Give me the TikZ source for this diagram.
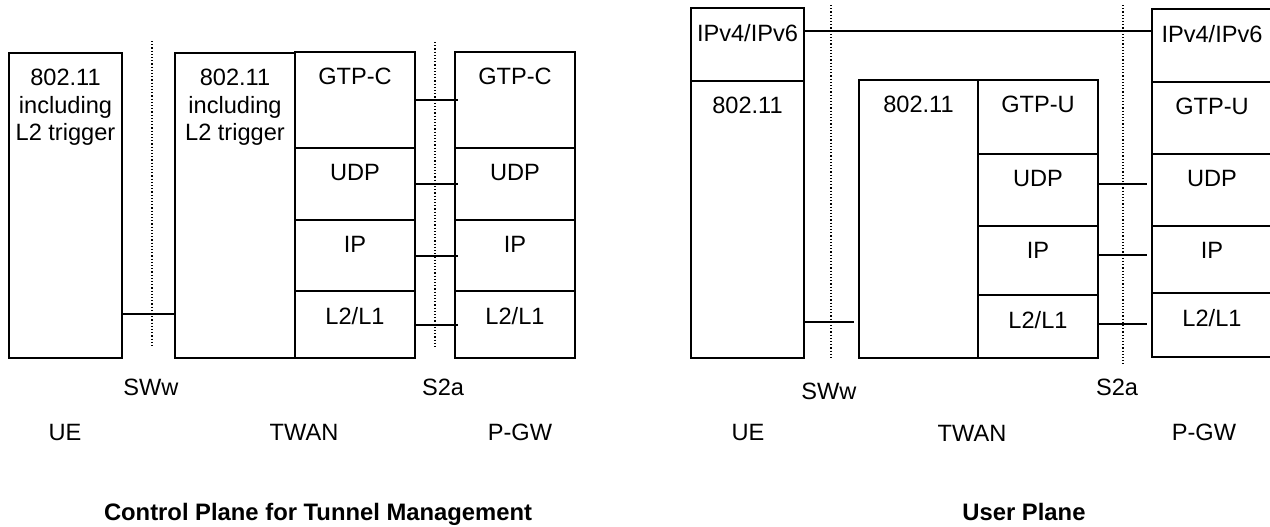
\documentclass[tikz,border=0pt]{standalone}
\usepackage{fontspec}
\setmainfont{Liberation Sans}
\tikzset{
  layer/.style={draw, line width=1pt, anchor=north west, inner sep=0pt,
                minimum width=60pt},
  ltext/.style={anchor=north, inner sep=0pt, align=center, yshift=-8.5pt},
  link/.style={line width=1pt},
  refline/.style={densely dotted, line width=0.6pt},
  caption/.style={anchor=base, inner sep=0pt},
  heading/.style={anchor=base, inner sep=0pt,
                  font=\fontsize{11.9}{14}\selectfont\bfseries},
}
\begin{document}
\begin{tikzpicture}[x=0.5pt, y=-0.5pt,
  every node/.style={font=\fontsize{11.8}{13.75}\selectfont}]
\useasboundingbox (0,0) rectangle (1270,526);

% Control plane: UE
\node[layer, minimum width=56.5pt, minimum height=152.5pt,
      label={[ltext]north:{802.11\\including\\L2 trigger}}] (ueC) at (8,52) {};

% Control plane: TWAN
\node[layer, minimum height=152.5pt,
      label={[ltext]north:{802.11\\including\\L2 trigger}}] (twanC) at (174,52) {};
\node[layer, minimum height=48pt, label={[ltext]north:GTP-C}] (gtpcT) at (294,51) {};
\node[layer, minimum height=36pt, label={[ltext]north:UDP}] (udpT) at (294,147) {};
\node[layer, minimum height=35.5pt, label={[ltext]north:IP}] (ipT) at (294,219) {};
\node[layer, minimum height=33.5pt, label={[ltext]north:L2/L1}] (l2T) at (294,290) {};

% Control plane: P-GW
\node[layer, minimum height=48pt, label={[ltext]north:GTP-C}] (gtpcP) at (454,51) {};
\node[layer, minimum height=36pt, label={[ltext]north:UDP}] (udpP) at (454,147) {};
\node[layer, minimum height=35.5pt, label={[ltext]north:IP}] (ipP) at (454,219) {};
\node[layer, minimum height=33.5pt, label={[ltext]north:L2/L1}] (l2P) at (454,290) {};

% Control plane: reference points
\draw[refline] (152,41) -- (152,348);
\draw[refline] (435,42) -- (435,348);

% Control plane: links
\draw[link] ([yshift=22.5pt]ueC.south east) -- ([yshift=22.5pt]twanC.south west);
\draw[link, shorten >=-2pt] (gtpcT.east) -- (gtpcP.west);
\draw[link, shorten >=-2pt] (udpT.east) -- (udpP.west);
\draw[link, shorten >=-2pt] (ipT.east) -- (ipP.west);
\draw[link, shorten >=-2pt] (l2T.east) -- (l2P.west);

% Control plane: captions
\node[caption] (swwC) at (151,395) {SWw};
\node[caption] (s2aC) at (443,395) {S2a};
\node[caption] (ueCap) at (65,440) {UE};
\node[caption] (twanCap) at (304,440) {TWAN};
\node[caption] (pgwCap) at (520,440) {P-GW};
\node[heading] (ctlTitle) at (318,520) {Control Plane for Tunnel Management};

% User plane: UE
\node[layer, minimum width=56.5pt, minimum height=36.5pt,
      label={[ltext]north:IPv4/IPv6}] (ipUE) at (690,7) {};
\node[layer, minimum width=56.5pt, minimum height=138.5pt,
      label={[ltext]north:802.11}] (wlanUE) at (690,80) {};

% User plane: TWAN
\node[layer, minimum width=59.5pt, minimum height=139pt,
      label={[ltext]north:802.11}] (twanU) at (858,79) {};
\node[layer, minimum height=37pt, label={[ltext]north:GTP-U}] (gtpuT) at (977,79) {};
\node[layer, minimum height=36pt, label={[ltext]north:UDP}] (udpUT) at (977,153) {};
\node[layer, minimum height=34.5pt, label={[ltext]north:IP}] (ipUT) at (977,225) {};
\node[layer, minimum height=31.5pt, label={[ltext]north:L2/L1}] (l2UT) at (977,294) {};

% User plane: P-GW (right edge runs off the page)
\node[layer, minimum width=62pt, minimum height=36.5pt,
      label={[ltext, xshift=-1pt]north:IPv4/IPv6}] (ipPG) at (1151,8) {};
\node[layer, minimum width=62pt, minimum height=36pt,
      label={[ltext, xshift=-1pt]north:GTP-U}] (gtpuP) at (1151,81) {};
\node[layer, minimum width=62pt, minimum height=36pt,
      label={[ltext, xshift=-1pt]north:UDP}] (udpUP) at (1151,153) {};
\node[layer, minimum width=62pt, minimum height=33.5pt,
      label={[ltext, xshift=-1pt]north:IP}] (ipUP) at (1151,225) {};
\node[layer, minimum width=62pt, minimum height=32pt,
      label={[ltext, xshift=-1pt]north:L2/L1}] (l2UP) at (1151,292) {};

% User plane: reference points
\draw[refline] (831,5) -- (831,360);
\draw[refline] (1123,5) -- (1123,364);

% User plane: links
\draw[link] ([yshift=7pt]ipUE.east) -- ([yshift=7pt]ipUE.east -| ipPG.west);
\draw[link, shorten >=2pt] ([yshift=18.5pt]wlanUE.south east)
  -- ([yshift=18.5pt]wlanUE.south east -| twanU.west);
\draw[link, shorten >=2pt] ([yshift=3pt]udpUT.east) -- ([yshift=3pt]udpUT.east -| udpUP.west);
\draw[link, shorten >=2pt] ([yshift=3pt]ipUT.east) -- ([yshift=3pt]ipUT.east -| ipUP.west);
\draw[link, shorten >=2pt] ([yshift=1.25pt]l2UT.east) -- ([yshift=1.25pt]l2UT.east -| l2UP.west);

% User plane: captions
\node[caption] (swwU) at (829,399) {SWw};
\node[caption] (s2aU) at (1117,395) {S2a};
\node[caption] (ueUCap) at (748,440) {UE};
\node[caption] (twanUCap) at (972,441) {TWAN};
\node[caption] (pgwUCap) at (1204,440) {P-GW};
\node[heading] (usrTitle) at (1024,520) {User Plane};

\end{tikzpicture}
\end{document}
